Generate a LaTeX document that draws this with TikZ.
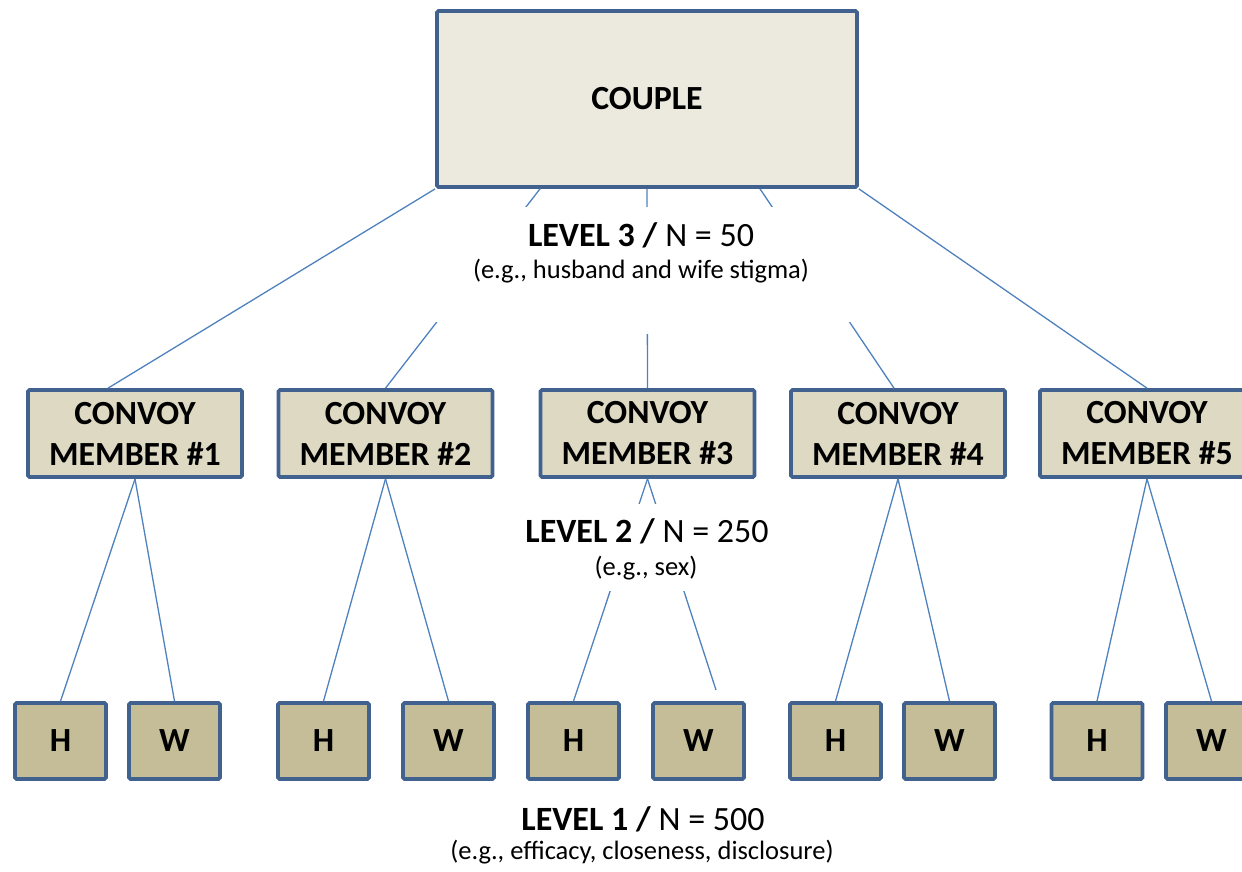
\documentclass[tikz,border=0pt]{standalone}
\usepackage{fontspec}
\setmainfont{Carlito}
\definecolor{boxline}{RGB}{65,98,143}
\definecolor{linkblue}{RGB}{79,129,189}
\definecolor{couplefill}{RGB}{236,234,223}
\definecolor{convoyfill}{RGB}{221,217,195}
\definecolor{personfill}{RGB}{196,189,151}
\begin{document}
\begin{tikzpicture}[x=1pt,y=-1pt,
  box/.style={draw=boxline, line width=3.7pt, rounded corners=1.5pt, inner sep=0pt,
    align=center, font=\bfseries\fontsize{33.8}{41}\selectfont},
  couplebox/.style={box, fill=couplefill, minimum width=420pt, minimum height=176pt},
  convoybox/.style={box, fill=convoyfill, minimum width=214pt, minimum height=87pt},
  personbox/.style={box, fill=personfill, minimum width=91pt, minimum height=76pt},
  link/.style={draw=linkblue, line width=1.3pt},
  mask/.style={fill=white, inner sep=0pt},
  levelhead/.style={anchor=base, inner sep=0pt, font=\fontsize{34}{40}\selectfont},
  levelnote/.style={anchor=base, inner sep=0pt, font=\fontsize{26.5}{31}\selectfont}]
\useasboundingbox (0,0) rectangle (1242,871);
\clip (0,0) rectangle (1242,871);

% top level
\node[couplebox] (couple) at (647,99) {COUPLE};

% convoy members
\foreach \i/\x in {1/135,2/385.5,3/647.5,4/898,5/1147}
  \node[convoybox] (m\i) at (\x,433.5) {CONVOY\\MEMBER \#\i};

% husband and wife of each member
\foreach \i/\h/\w in {1/60.5/174.5,2/323.5/448.5,3/573.5/698.5,4/835.5/949.5,5/1097/1211.5}{
  \node[personbox] (h\i) at (\h,741) {H};
  \node[personbox] (w\i) at (\w,741) {W};
}

% couple to convoy members
\draw[link] (couple.south west) -- ([xshift=-27pt]m1.north);
\draw[link] ([xshift=-107pt]couple.south) -- (m2.north);
\draw[link] (couple.south) -- (m3.north);
\draw[link] ([xshift=113pt]couple.south) -- ([xshift=-4pt]m4.north);
\draw[link] (couple.south east) -- (m5.north);

% convoy members to spouses
\coordinate (w3end) at (716,690);
\foreach \i in {1,2,4,5}{
  \draw[link] (m\i.south) -- (h\i.north);
  \draw[link] (m\i.south) -- (w\i.north);
}
\draw[link] (m3.south) -- (h3.north);
\draw[link] (m3.south) -- (w3end);

% white backgrounds of the level captions
\node[mask, minimum width=445pt, minimum height=115pt] (lv3bg) at (647.5,264.5) {};
\node[mask, minimum width=20pt, minimum height=12pt] (lv3mid) at (647.5,328) {};
\node[mask, minimum width=255pt, minimum height=87pt] (lv2bg) at (647.5,547.5) {};

% level captions
\node[levelhead] (lv3) at (641,246) {\textbf{LEVEL 3 /} N = 50};
\node[levelnote] (lv3ex) at (641,278) {(e.g., husband and wife stigma)};
\node[levelhead] (lv2) at (647,542) {\textbf{LEVEL 2 /} N = 250};
\node[levelnote] (lv2ex) at (646,575) {(e.g., sex)};
\node[levelhead] (lv1) at (643,830) {\textbf{LEVEL 1 /} N = 500};
\node[levelnote] (lv1ex) at (642,859) {(e.g., efficacy, closeness, disclosure)};
\end{tikzpicture}
\end{document}
